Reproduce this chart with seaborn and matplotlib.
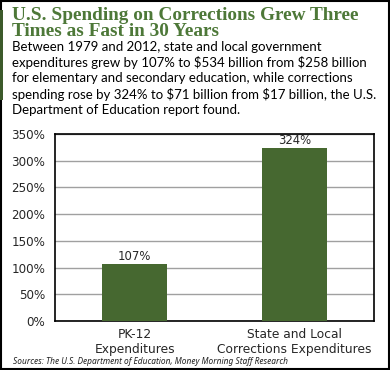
import matplotlib
matplotlib.use('Agg')
import matplotlib.pyplot as plt
from matplotlib.patches import Rectangle
import matplotlib.ticker as mticker
import pandas as pd
import seaborn as sns

sns.set_style("white")
plt.rcParams['font.family'] = ['DejaVu Sans']
plt.rcParams['text.parse_math'] = False

categories = ['PK-12\nExpenditures', 'State and Local\nCorrections Expenditures']
growth_pct = [107, 324]
bar_labels = ['107%', '324%']
y_ticks = [0, 50, 100, 150, 200, 250, 300, 350]

title = 'U.S. Spending on Corrections Grew Three\nTimes as Fast in 30 Years'
body = ('Between 1979 and 2012, state and local government\n'
        'expenditures grew by 107% to $534 billion from $258 billion\n'
        'for elementary and secondary education, while corrections\n'
        'spending rose by 324% to $71 billion from $17 billion, the U.S.\n'
        'Department of Education report found.')
source = 'Sources: The U.S. Department of Education, Money Morning Staff Research'

bar_color = '#466830'
title_color = '#4d7838'

df = pd.DataFrame({'category': categories, 'growth': growth_pct})

fig = plt.figure(figsize=(3.9, 3.7), dpi=100)
ax = fig.add_axes([55 / 390, 1 - 321 / 370, 319 / 390, 187 / 370])

sns.barplot(data=df, x='category', y='growth', color=bar_color, width=0.41,
            saturation=1, linewidth=0, ax=ax, zorder=3)
ax.set_ylim(0, 350)
ax.set_xlim(-0.5, 1.5)
ax.set_yticks(y_ticks)
ax.yaxis.set_major_formatter(mticker.FuncFormatter(lambda v, p: '{:.0f}%'.format(v)))
ax.grid(axis='y', color='#a0a0a0', linewidth=1, zorder=0)
ax.set_xlabel('')
ax.set_ylabel('')
ax.tick_params(axis='y', labelsize=8.6, length=0, pad=7)
ax.tick_params(axis='x', labelsize=8.8, length=0, pad=5)
for lbl in ax.get_xticklabels():
    lbl.set_linespacing(1.25)
for s in ax.spines.values():
    s.set_color('black')
    s.set_linewidth(1.2)
    s.set_visible(True)

for rect, label in zip(ax.patches, bar_labels):
    ax.text(rect.get_x() + rect.get_width() / 2, rect.get_height() + 2, label,
            ha='center', va='bottom', fontsize=8.4)

fig.text(12 / 390, 1 - 7 / 370, title, ha='left', va='top', fontsize=13.9,
         family='Liberation Serif', fontweight='bold', color=title_color,
         linespacing=0.9)
fig.text(12 / 390, 1 - 41 / 370, body, ha='left', va='top', fontsize=9.5,
         family='Lato', color='black', linespacing=1.3)
fig.text(13 / 390, 1 - 361 / 370, source, ha='left', va='center', fontsize=6,
         style='italic', family='Noto Sans', color='#222222')

# frame and green accent bar
fig.patches.append(Rectangle((0.002, 0.002), 0.995, 0.995, transform=fig.transFigure,
                             fill=False, edgecolor='black', linewidth=1.5))
fig.patches.append(Rectangle((0, 1 - 100 / 370), 3 / 390, 90 / 370, transform=fig.transFigure,
                             facecolor='#3c5a2a', edgecolor='none'))

fig.savefig('out.png', dpi=100)
